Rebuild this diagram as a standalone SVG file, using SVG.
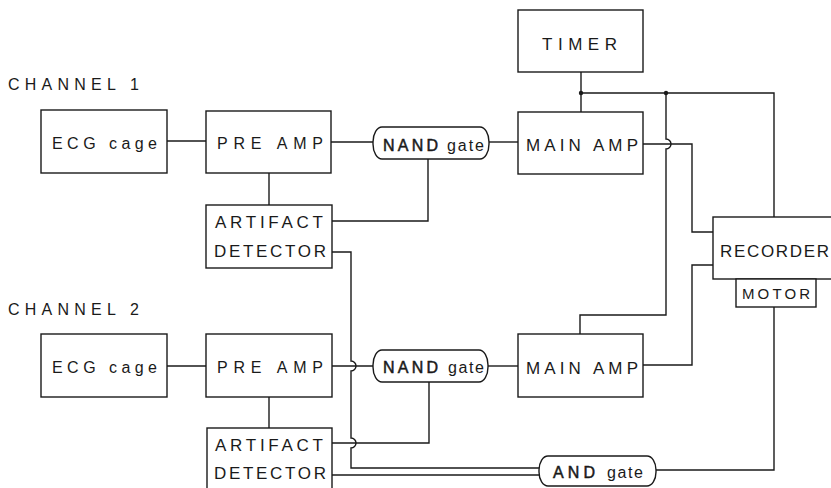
<svg xmlns="http://www.w3.org/2000/svg" width="831" height="488" viewBox="0 0 831 488">
<style>
.box{fill:#fff;stroke:#1a1a1a;stroke-width:1.4}
.ln{fill:none;stroke:#1a1a1a;stroke-width:1.4}
.t{font-family:"Liberation Sans",Arial,sans-serif;font-size:17px;fill:#1a1a1a}
.s{font-size:16px}
.b{font-size:16px;stroke:#1a1a1a;stroke-width:0.5}
.g{font-size:16px}
.m{font-size:15px}
</style>
<rect width="831" height="488" fill="#fff"/>
<text class="t s" x="8" y="90" textLength="131" lengthAdjust="spacing">CHANNEL 1</text>
<text class="t s" x="8" y="315" textLength="131" lengthAdjust="spacing">CHANNEL 2</text>
<g id="connectors">
<path class="ln" d="M167 141H206"/>
<path class="ln" d="M331 142H373"/>
<path class="ln" d="M489 142H518"/>
<path class="ln" d="M269 173V205"/>
<path class="ln" d="M332 221H428V159"/>
<path class="ln" d="M581 72V112"/>
<path class="ln" d="M581 93H774V217"/>
<path class="ln" d="M666 93V139a5 5 0 0 1 0 10V315H580V334"/>
<path class="ln" d="M643 144H692V232H713"/>
<path class="ln" d="M643 365H692V265H713"/>
<path class="ln" d="M167 366H206"/>
<path class="ln" d="M332 366H373"/>
<path class="ln" d="M488 366H518"/>
<path class="ln" d="M269 397V428"/>
<path class="ln" d="M332 443H429V382"/>
<path class="ln" d="M332 252H351V361a5 5 0 0 1 0 10V438a5 5 0 0 1 0 10V468H539"/>
<path class="ln" d="M332 475H539"/>
<path class="ln" d="M656 470H774V307"/>
<circle cx="581" cy="93" r="2.2" fill="#1a1a1a"/>
<circle cx="666" cy="93" r="2.2" fill="#1a1a1a"/>
</g>
<g id="ecg1"><rect class="box" x="41" y="110" width="126" height="63"/><text class="t s" x="52" y="149" textLength="105" lengthAdjust="spacing">ECG cage</text></g>
<g id="preamp1"><rect class="box" x="206" y="111" width="125" height="62"/><text class="t s" x="217" y="149" textLength="106" lengthAdjust="spacing">PRE AMP</text></g>
<g id="artifact1"><rect class="box" x="206" y="205" width="126" height="63"/><text class="t" x="215" y="228" textLength="108" lengthAdjust="spacing">ARTIFACT</text><text class="t" x="214" y="257" textLength="112" lengthAdjust="spacing">DETECTOR</text></g>
<g id="nand1"><rect class="box" x="373" y="127" width="116" height="32" rx="9" ry="15"/><text class="t b" x="383" y="151" textLength="55" lengthAdjust="spacing">NAND</text><text class="t g" x="447" y="151" textLength="37" lengthAdjust="spacing">gate</text></g>
<g id="timer"><rect class="box" x="518" y="10" width="125" height="62"/><text class="t" x="542" y="50" textLength="75" lengthAdjust="spacing">TIMER</text></g>
<g id="mainamp1"><rect class="box" x="518" y="112" width="125" height="62"/><text class="t" x="526" y="151" textLength="112" lengthAdjust="spacing">MAIN AMP</text></g>
<g id="recorder"><rect class="box" x="713" y="217" width="122" height="62"/><text class="t" x="720" y="257" textLength="109" lengthAdjust="spacing">RECORDER</text></g>
<g id="motor"><rect class="box" x="736" y="279" width="80" height="28"/><text class="t m" x="742" y="299" textLength="68" lengthAdjust="spacing">MOTOR</text></g>
<g id="ecg2"><rect class="box" x="41" y="334" width="126" height="63"/><text class="t s" x="52" y="373" textLength="105" lengthAdjust="spacing">ECG cage</text></g>
<g id="preamp2"><rect class="box" x="206" y="334" width="126" height="63"/><text class="t s" x="217" y="373" textLength="106" lengthAdjust="spacing">PRE AMP</text></g>
<g id="artifact2"><rect class="box" x="207" y="428" width="125" height="63"/><text class="t" x="215" y="451" textLength="108" lengthAdjust="spacing">ARTIFACT</text><text class="t" x="214" y="479" textLength="112" lengthAdjust="spacing">DETECTOR</text></g>
<g id="nand2"><rect class="box" x="373" y="350" width="115" height="32" rx="9" ry="15"/><text class="t b" x="383" y="373" textLength="55" lengthAdjust="spacing">NAND</text><text class="t g" x="448" y="373" textLength="36" lengthAdjust="spacing">gate</text></g>
<g id="mainamp2"><rect class="box" x="518" y="334" width="125" height="63"/><text class="t" x="526" y="374" textLength="112" lengthAdjust="spacing">MAIN AMP</text></g>
<g id="andgate"><rect class="box" x="539" y="456" width="117" height="30" rx="9" ry="14"/><text class="t b" x="553" y="478" textLength="42" lengthAdjust="spacing">AND</text><text class="t g" x="607" y="478" textLength="36" lengthAdjust="spacing">gate</text></g>
</svg>
